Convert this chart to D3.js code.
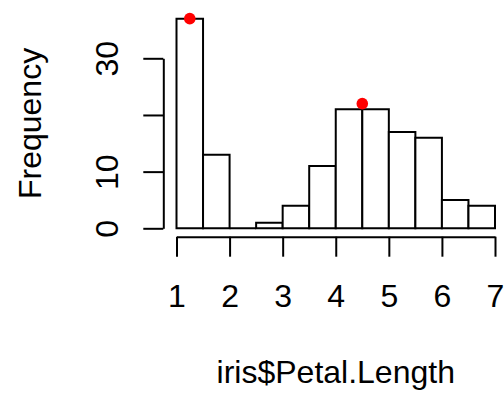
<!DOCTYPE html>
<html>
<head>
<meta charset="utf-8">
<script src="https://cdn.jsdelivr.net/npm/d3@7"></script>
<style>
    body { margin: 0; background: #fff; }
    svg { display: block; }
    text { font-family: "Liberation Sans", Arial, Helvetica, sans-serif; fill: #000; }
</style>
</head>
<body>
<svg width="504" height="393"></svg>
<script>
// histogram of iris$Petal.Length, breaks every 0.5
const binStarts = [1, 1.5, 2, 2.5, 3, 3.5, 4, 4.5, 5, 5.5, 6, 6.5];
const binEnds = [1.5, 2, 2.5, 3, 3.5, 4, 4.5, 5, 5.5, 6, 6.5, 7];
const counts = [37, 13, 0, 1, 4, 11, 21, 21, 17, 16, 5, 4];
const xTicks = [1, 2, 3, 4, 5, 6, 7];
const yTicks = [0, 10, 20, 30];
const yTickLabels = ['0', '10', '', '30']; // R drops the 20 label (overlap)
// red highlight points
const pointX = [1.25, 4.5];
const pointY = [37, 22];

function drawHistogram() {
    const svg = d3.select('svg');
    const fontSize = 32;
    const lw = 2;

    const xScale = d3.scaleLinear()
        .domain([1, 7])
        .range([176.5, 495]);
    const yScale = d3.scaleLinear()
        .domain([0, 30])
        .range([228.3, 58.3]);

    const bins = counts.map((c, i) => ({ x0: binStarts[i], x1: binEnds[i], n: c }));

    // Bars (paths, so an empty bin still shows its bottom edge)
    svg.selectAll('.bar')
        .data(bins)
        .join('path')
        .attr('class', 'bar')
        .attr('d', d => {
            const x0 = xScale(d.x0), x1 = xScale(d.x1);
            const y0 = yScale(0), y1 = yScale(d.n);
            return `M${x0},${y0}L${x0},${y1}L${x1},${y1}L${x1},${y0}Z`;
        })
        .attr('fill', 'white')
        .attr('stroke', 'black')
        .attr('stroke-width', lw);

    // Points
    svg.selectAll('.pt')
        .data(pointX.map((x, i) => [x, pointY[i]]))
        .join('circle')
        .attr('class', 'pt')
        .attr('cx', d => xScale(d[0]))
        .attr('cy', d => yScale(d[1]))
        .attr('r', 5.8)
        .attr('fill', 'red');

    // Axes
    const axisY = 236.7;
    const axisX = 163.3;
    const xAxis = d3.axisBottom(xScale)
        .tickValues(xTicks)
        .tickFormat(d3.format('d'))
        .tickSize(20)
        .tickSizeOuter(0);
    const gx = svg.append('g')
        .attr('transform', `translate(0, ${axisY})`)
        .call(xAxis);
    gx.selectAll('text')
        .attr('y', 70.3)
        .attr('dy', 0)
        .style('font-size', fontSize + 'px')
        .style('font-family', '"Liberation Sans", Arial, sans-serif');

    const yAxis = d3.axisLeft(yScale)
        .tickValues(yTicks)
        .tickFormat((d, i) => yTickLabels[i])
        .tickSize(20)
        .tickSizeOuter(0);
    const gy = svg.append('g')
        .attr('transform', `translate(${axisX}, 0)`)
        .call(yAxis);
    gy.selectAll('text')
        .attr('x', 0)
        .attr('dy', 0)
        .attr('text-anchor', 'middle')
        .attr('transform', `translate(${118 - axisX}, 0) rotate(-90)`)
        .style('font-size', fontSize + 'px')
        .style('font-family', '"Liberation Sans", Arial, sans-serif');

    svg.selectAll('.domain, .tick line')
        .attr('stroke', 'black')
        .attr('stroke-width', lw);

    // Labels
    svg.append('text')
        .text('iris$Petal.Length')
        .attr('x', xScale(4))
        .attr('y', 382.5)
        .style('text-anchor', 'middle')
        .style('font-size', fontSize + 'px');
    svg.append('text')
        .text('Frequency')
        .attr('transform', `translate(41, ${yScale(18.5)}) rotate(-90)`)
        .style('text-anchor', 'middle')
        .style('font-size', fontSize + 'px');
}

window.addEventListener('load', drawHistogram);
</script>
</body>
</html>
